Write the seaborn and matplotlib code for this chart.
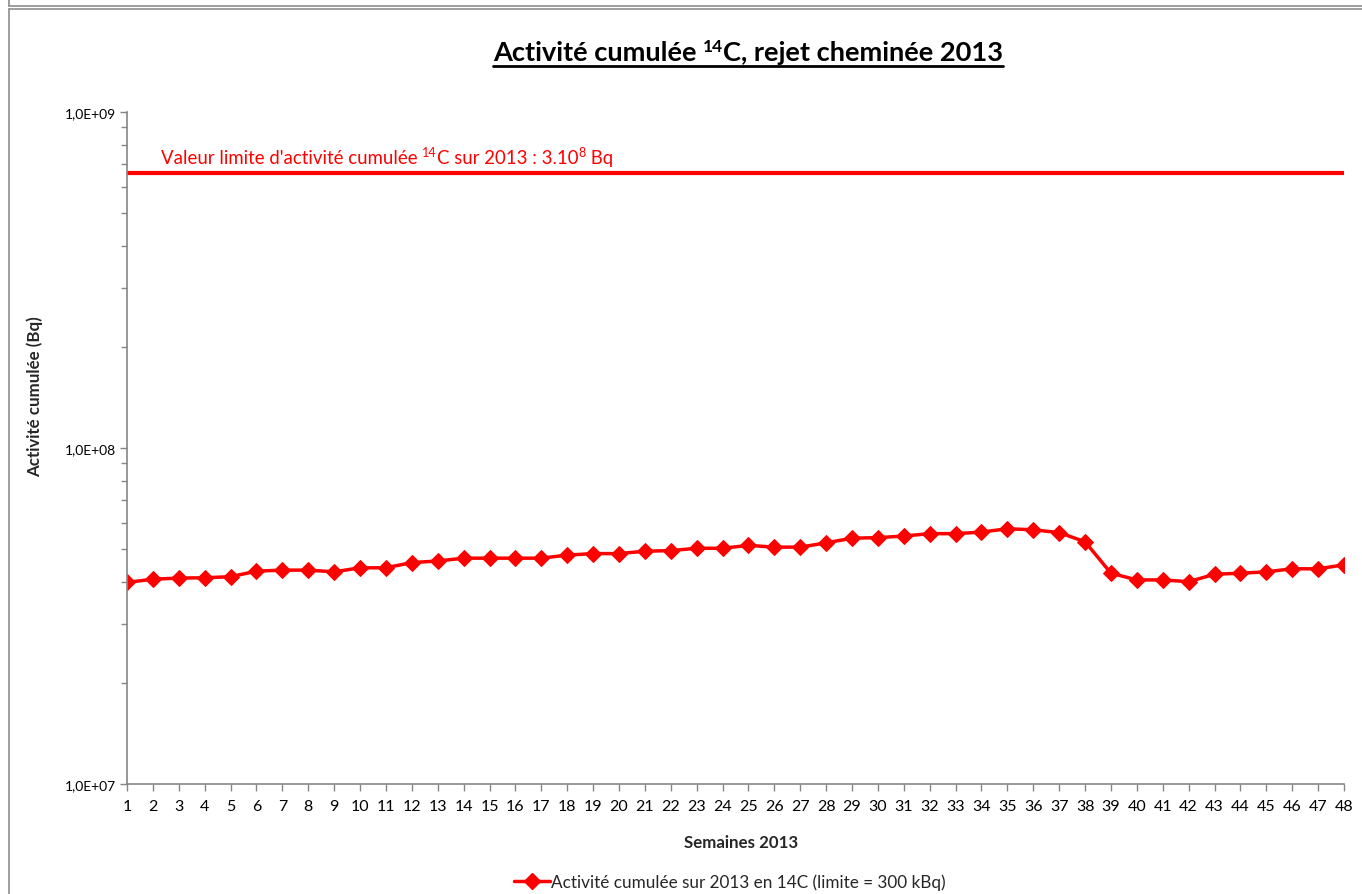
import matplotlib
matplotlib.use("Agg")
import matplotlib.pyplot as plt
from matplotlib.lines import Line2D
from matplotlib.ticker import FixedLocator, NullFormatter
import numpy as np
import pandas as pd
import seaborn as sns

# Weekly cumulative 14C activity released through the stack (Bq)
weeks = list(range(1, 49))
activity_bq = [
    3.98e7, 4.07e7, 4.10e7, 4.11e7, 4.14e7, 4.30e7, 4.33e7, 4.33e7,
    4.28e7, 4.40e7, 4.40e7, 4.56e7, 4.61e7, 4.70e7, 4.70e7, 4.70e7,
    4.70e7, 4.80e7, 4.85e7, 4.85e7, 4.93e7, 4.95e7, 5.03e7, 5.03e7,
    5.13e7, 5.07e7, 5.07e7, 5.22e7, 5.39e7, 5.41e7, 5.47e7, 5.56e7,
    5.56e7, 5.62e7, 5.75e7, 5.71e7, 5.60e7, 5.26e7, 4.24e7, 4.05e7,
    4.05e7, 4.00e7, 4.21e7, 4.24e7, 4.28e7, 4.37e7, 4.37e7, 4.49e7,
]
limit_bq = 6.6e8

y_ticks = [1e7, 1e8, 1e9]
y_tick_labels = ["1,0E+07", "1,0E+08", "1,0E+09"]

title_parts = ["Activité cumulée ", "14", "C, rejet cheminée 2013"]
limit_parts = ["Valeur limite d'activité cumulée ", "14", "C sur 2013 : 3.10", "8", " Bq"]
series_label = "Activité cumulée sur 2013 en 14C (limite = 300 kBq)"
x_label = "Semaines 2013"
y_label = "Activité cumulée (Bq)"

RED = "#FF0000"
GREY = "#868686"
FONT = ["Lato", "DejaVu Sans"]

sns.set_theme(style="white")
plt.rcParams["font.family"] = FONT

W_PX, H_PX = 1362, 895
fig = plt.figure(figsize=(W_PX / 100, H_PX / 100), dpi=100)
fig.patch.set_facecolor("white")

# plot area in pixel coordinates
left, right, top, bottom = 127, 1344, 113, 785
ax = fig.add_axes([left / W_PX, 1 - bottom / H_PX,
                   (right - left) / W_PX, (bottom - top) / H_PX])

df = pd.DataFrame({"week": weeks, "activity": activity_bq})
sns.lineplot(data=df, x="week", y="activity", ax=ax, color=RED,
             linewidth=2.5, marker="D", markersize=8.5,
             markeredgecolor=RED, markerfacecolor=RED,
             label=series_label, legend=False)
ax.axhline(limit_bq, color=RED, linewidth=3.0)

ax.set_yscale("log")
ax.set_ylim(1e7, 1e9)
ax.set_xlim(weeks[0], weeks[-1])
ax.yaxis.set_major_locator(FixedLocator(y_ticks))
ax.set_yticklabels(y_tick_labels)
minor = [m * 10 ** e for e in (7, 8) for m in range(2, 10)]
ax.yaxis.set_minor_locator(FixedLocator(minor))
ax.yaxis.set_minor_formatter(NullFormatter())
ax.set_xticks(weeks)
ax.set_xticklabels([str(w) for w in weeks])

for side in ("top", "right"):
    ax.spines[side].set_visible(False)
for side in ("left", "bottom"):
    ax.spines[side].set_color(GREY)
    ax.spines[side].set_linewidth(1.2)
ax.grid(False)
ax.tick_params(axis="y", which="major", direction="out", length=5, width=1,
               color=GREY, labelsize=10, pad=3, left=True, labelcolor="#000000")
ax.tick_params(axis="y", which="minor", direction="out", length=4, width=1,
               color=GREY, left=True)
ax.tick_params(axis="x", which="major", direction="out", length=5, width=1,
               color=GREY, labelsize=11.5, pad=6, bottom=True, labelcolor="#000000")
ax.set_xlabel("")
ax.set_ylabel("")

# axis titles
fig.text(741 / W_PX, 1 - 843 / H_PX, x_label, fontsize=12.2, fontweight="bold",
         ha="center", va="center")
fig.text(35 / W_PX, 1 - 397 / H_PX, y_label, fontsize=12.2, fontweight="bold",
         ha="center", va="center", rotation=90)

# legend below the plot
handle = Line2D([], [], color=RED, linewidth=2.5, marker="D", markersize=8,
                markerfacecolor=RED, markeredgecolor=RED)
fig.legend([handle], [series_label], loc="center", frameon=False,
           bbox_to_anchor=(730 / W_PX, 1 - 883 / H_PX), fontsize=12.3,
           handlelength=2.1, handletextpad=0.1, borderaxespad=0)


def rich_text(pieces, x, y_base, ha="left", **kw):
    """Place a run of text pieces side by side; pieces are (text, size, rise_px)."""
    renderer = fig.canvas.get_renderer()
    arts = [(fig.text(0, 0, s, fontsize=sz, va="baseline", ha="left", **kw), rise)
            for s, sz, rise in pieces]
    widths = [t.get_window_extent(renderer).width for t, _ in arts]
    total = sum(widths)
    x0 = x - total / 2 if ha == "center" else x
    cx = x0
    for (t, rise), w in zip(arts, widths):
        t.set_position((cx / W_PX, (y_base + rise) / H_PX))
        cx += w
    return x0, x0 + total


fig.canvas.draw()

# underlined bold title with superscript mass number
tx0, tx1 = rich_text([(title_parts[0], 19.6, 0), (title_parts[1], 12.5, 9),
                      (title_parts[2], 19.6, 0)],
                     748, H_PX - 61, ha="center", fontweight="bold", color="black")
fig.add_artist(Line2D([tx0 / W_PX, tx1 / W_PX],
                      [(H_PX - 67) / H_PX] * 2, color="black", linewidth=2.0))

# label of the annual limit line
rich_text([(limit_parts[0], 13.4, 0), (limit_parts[1], 9, 7), (limit_parts[2], 13.4, 0),
           (limit_parts[3], 9, 7), (limit_parts[4], 13.4, 0)],
          161, H_PX - 164, color=RED)

# chart frame
frame_kw = dict(color="#8C8C8C", linewidth=1.2)
fx = 8.5 / W_PX
fig.add_artist(Line2D([fx, fx], [0, 1 - 9.5 / H_PX], **frame_kw))
fig.add_artist(Line2D([fx, 1.01], [1 - 9.5 / H_PX] * 2, **frame_kw))
fig.add_artist(Line2D([fx, fx], [1 - 6.5 / H_PX, 1.01], **frame_kw))
fig.add_artist(Line2D([fx, 1.01], [1 - 6.5 / H_PX] * 2, **frame_kw))

fig.savefig("out.png", dpi=100, facecolor="white")
